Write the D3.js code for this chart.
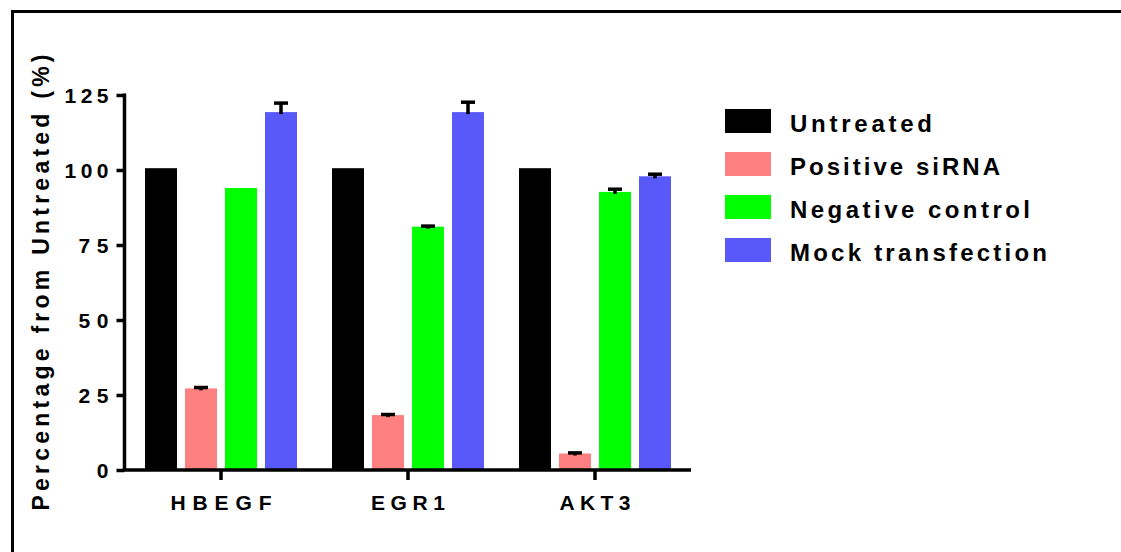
<!DOCTYPE html>
<html>
<head>
<meta charset="utf-8">
<script src="https://cdn.jsdelivr.net/npm/d3@7"></script>
<style>
  html, body { margin: 0; padding: 0; background: #fff; }
  svg { display: block; }
  text { font-family: "Liberation Sans", Arial, sans-serif; font-weight: bold; fill: #000; }
</style>
</head>
<body>
<svg id="chart" width="1121" height="552"></svg>
<script>
// Knockdown panel: expression relative to untreated cells, per target gene
const genes = ["HBEGF", "EGR1", "AKT3"];
const groups = ["Untreated", "Positive siRNA", "Negative control", "Mock transfection"];
const groupColors = ["#000000", "#FF8080", "#00FF00", "#5959FA"];

const untreated      = [100.6, 100.6, 100.6];
const positiveSiRNA  = [27.2, 18.3, 5.5];
const negativeCtrl   = [94.0, 81.1, 92.7];
const mockTransfect  = [119.3, 119.3, 97.9];

// upper SEM for each bar
const untreatedErr   = [0, 0, 0];
const positiveErr    = [0.3, 0.2, 0.2];
const negativeErr    = [0, 0.2, 0.9];
const mockErr        = [3.0, 3.3, 0.7];

const yTicks = [0, 25, 50, 75, 100, 125];
const yTitle = "Percentage from Untreated (%)";

const seriesValues = [untreated, positiveSiRNA, negativeCtrl, mockTransfect];
const seriesErrors = [untreatedErr, positiveErr, negativeErr, mockErr];

const rows = [];
genes.forEach((g, gi) => {
  groups.forEach((s, si) => {
    rows.push({ gene: g, group: s, color: groupColors[si],
                value: seriesValues[si][gi], err: seriesErrors[si][gi] });
  });
});

const svg = d3.select("#chart");

// outer frame (open at right and bottom edges of the page)
svg.append("rect")
  .attr("x", 12.5).attr("y", 11.5)
  .attr("width", 1200).attr("height", 700)
  .attr("fill", "none").attr("stroke", "#000").attr("stroke-width", 3);

const y = d3.scaleLinear().domain([0, 125]).range([470, 95]);
const x0 = d3.scaleBand().domain(genes).range([127.5, 688.5]).padding(0);
const x1 = d3.scaleBand().domain(groups).range([0, x0.bandwidth()])
  .paddingInner(0.2).paddingOuter(0.4375);

// bars
const g = svg.append("g");
g.selectAll("rect.bar").data(rows).join("rect")
  .attr("class", "bar")
  .attr("x", d => x0(d.gene) + x1(d.group))
  .attr("y", d => y(d.value))
  .attr("width", x1.bandwidth())
  .attr("height", d => y(0) - y(d.value))
  .attr("fill", d => d.color);

// error bars (upper only)
const eb = g.selectAll("g.err").data(rows.filter(d => d.err > 0)).join("g").attr("class", "err");
eb.append("line")
  .attr("x1", d => x0(d.gene) + x1(d.group) + x1.bandwidth() / 2)
  .attr("x2", d => x0(d.gene) + x1(d.group) + x1.bandwidth() / 2)
  .attr("y1", d => y(d.value) + 2)
  .attr("y2", d => y(d.value + d.err))
  .attr("stroke", "#000").attr("stroke-width", 3.5);
eb.append("line")
  .attr("x1", d => x0(d.gene) + x1(d.group) + x1.bandwidth() / 2 - 7)
  .attr("x2", d => x0(d.gene) + x1(d.group) + x1.bandwidth() / 2 + 7)
  .attr("y1", d => y(d.value + d.err))
  .attr("y2", d => y(d.value + d.err))
  .attr("stroke", "#000").attr("stroke-width", 3.5);

// y axis
const yAxis = svg.append("g").attr("transform", "translate(124.5,0)")
  .call(d3.axisLeft(y).tickValues(yTicks).tickSize(8).tickPadding(6).tickSizeOuter(0));
yAxis.select(".domain").attr("stroke-width", 3.5).attr("d", `M0,${y(125) - 1.5}V${y(0)}`);
yAxis.selectAll(".tick line").attr("stroke-width", 3.5);
yAxis.selectAll(".tick text")
  .style("font-size", "21px").style("font-family", "Liberation Sans, Arial, sans-serif")
  .style("font-weight", "bold")
  .attr("dy", "0.36em")
  .attr("x", -16)
  .attr("textLength", d => String(d).length === 3 ? 44 : String(d).length === 2 ? 30 : 14)
  .attr("lengthAdjust", "spacing");

// x axis
const xAxis = svg.append("g").attr("transform", `translate(0,${y(0)})`)
  .call(d3.axisBottom(x0).tickSize(10).tickSizeOuter(0).tickPadding(14));
xAxis.select(".domain").attr("stroke-width", 3.5).attr("d", `M123,0H691`);
xAxis.selectAll(".tick line").attr("stroke-width", 3.5);
const xLabelLen = { HBEGF: 101, EGR1: 74, AKT3: 71 };
xAxis.selectAll(".tick text")
  .style("font-size", "21px").style("font-family", "Liberation Sans, Arial, sans-serif")
  .style("font-weight", "bold")
  .attr("dy", "16px")
  .attr("textLength", d => xLabelLen[d])
  .attr("lengthAdjust", "spacing");

// y axis title
svg.append("text")
  .attr("transform", "translate(48.5,282.5) rotate(-90)")
  .attr("text-anchor", "middle")
  .style("font-size", "23px")
  .attr("textLength", 456)
  .attr("lengthAdjust", "spacing")
  .text(yTitle);

// legend
const legendLen = [142, 210, 240, 257];
const leg = svg.append("g");
const li = leg.selectAll("g").data(groups).join("g")
  .attr("transform", (d, i) => `translate(725,${109 + i * 43})`);
li.append("rect")
  .attr("width", 46).attr("height", 24)
  .attr("fill", (d, i) => groupColors[i]);
li.append("text")
  .attr("x", 65).attr("y", 22.5)
  .style("font-size", "24px")
  .attr("textLength", (d, i) => legendLen[i])
  .attr("lengthAdjust", "spacing")
  .text(d => d);
</script>
</body>
</html>
